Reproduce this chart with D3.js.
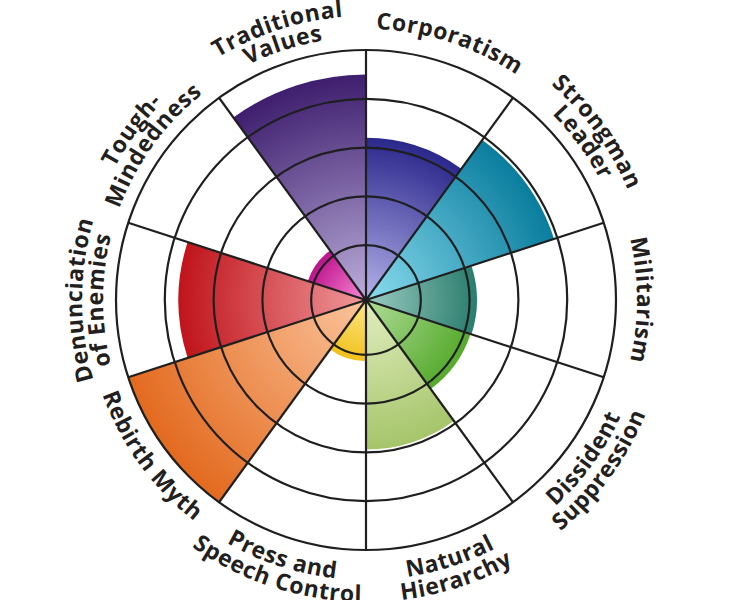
<!DOCTYPE html>
<html><head><meta charset="utf-8">
<script src="https://cdn.jsdelivr.net/npm/d3@7"></script>
<style>body{margin:0;background:#fff}</style>
</head><body>
<svg id="chart" width="732" height="600"></svg>
<script>
const categories = ["Corporatism","Strongman Leader","Militarism","Dissident Suppression","Natural Hierarchy","Press and Speech Control","Rebirth Myth","Denunciation of Enemies","Tough-Mindedness","Traditional Values"];
const labelLines = [["Corporatism"],["Strongman","Leader"],["Militarism"],["Dissident","Suppression"],["Natural","Hierarchy"],["Press and","Speech Control"],["Rebirth Myth"],["Denunciation","of Enemies"],["Tough-","Mindedness"],["Traditional","Values"]];
const values = [3.2, 3.93, 2.15, 2.13, 2.94, 1.13, 5, 3.72, 1.13, 4.5];
const innerColors = ["#b4b2ea","#8adcee","#9cccc4","#b0dc98","#e2eec0","#fce98a","#fbc49c","#f0999c","#f98ad6","#bcaedb"];
const outerColors = ["#2b288c","#0a7d9e","#2a7d6d","#55aa2c","#a5c56a","#f1c01c","#e36a1f","#c0141b","#bd128c","#3e1e6e"];
const ringTicks = [1, 2, 3, 4, 5];

const W = 732, H = 600, cx = 366, cy = 300, R = 250;
const svg = d3.select("#chart");
const defs = svg.append("defs");
const g = svg.append("g").attr("transform", `translate(${cx},${cy})`);

const x = d3.scaleBand().domain(categories).range([0, 2 * Math.PI]).padding(0);
const r = d3.scaleLinear().domain([0, 5]).range([6, R]);

const data = categories.map((c, i) => ({cat: c, value: values[i], i}));

// gradients
data.forEach(d => {
  const gr = defs.append("radialGradient")
    .attr("id", "grad" + d.i)
    .attr("gradientUnits", "userSpaceOnUse")
    .attr("cx", 0).attr("cy", 0).attr("r", r(d.value));
  gr.append("stop").attr("offset", "0%").attr("stop-color", innerColors[d.i]);
  gr.append("stop").attr("offset", "100%").attr("stop-color", outerColors[d.i]);
});

const arc = d3.arc()
  .innerRadius(0)
  .outerRadius(d => r(d.value))
  .startAngle(d => x(d.cat))
  .endAngle(d => x(d.cat) + x.bandwidth());

g.selectAll("path.sector").data(data).join("path")
  .attr("class", "sector")
  .attr("d", arc)
  .attr("fill", d => `url(#grad${d.i})`);

// rings
g.selectAll("circle.ring").data(ringTicks).join("circle")
  .attr("class", "ring")
  .attr("r", d => r(d))
  .attr("fill", "none")
  .attr("stroke", "#1f1f1f")
  .attr("stroke-width", 2.2);

// spokes
g.selectAll("line.spoke").data(categories).join("line")
  .attr("class", "spoke")
  .attr("x1", 0).attr("y1", 0)
  .attr("x2", d => R * Math.sin(x(d)))
  .attr("y2", d => -R * Math.cos(x(d)))
  .attr("stroke", "#1f1f1f")
  .attr("stroke-width", 2.2);

// labels
const deg = Math.PI / 180;
function pt(rr, a) { return [rr * Math.sin(a), -rr * Math.cos(a)]; }
const span = 70 * deg;
data.forEach(d => {
  const a = x(d.cat) + x.bandwidth() / 2;
  const ad = a / deg;
  const lines = labelLines[d.i];
  const n = lines.length;
  const bottom = ad > 100 && ad < 260;
  lines.forEach((txt, li) => {
    let rr, p0, p1, sweep;
    if (!bottom) {
      rr = (n === 1 ? 271 : 263) + (n - 1 - li) * 21;
      p0 = pt(rr, a - span); p1 = pt(rr, a + span); sweep = 1;
    } else {
      rr = 280 + li * 22;
      p0 = pt(rr, a + span); p1 = pt(rr, a - span); sweep = 0;
    }
    const id = `lp${d.i}_${li}`;
    g.append("path").attr("id", id)
      .attr("d", `M${p0[0]},${p0[1]} A${rr},${rr} 0 0 ${sweep} ${p1[0]},${p1[1]}`)
      .attr("fill", "none").attr("stroke", "none");
    g.append("text")
      .attr("font-family", "'Open Sans', sans-serif")
      .attr("font-weight", 700)
      .attr("font-size", 23)
      .attr("letter-spacing", 0.6)
      .attr("fill", "#231f20")
      .append("textPath")
      .attr("href", "#" + id)
      .attr("startOffset", "50%")
      .attr("text-anchor", "middle")
      .text(txt);
  });
});
</script>
</body></html>
